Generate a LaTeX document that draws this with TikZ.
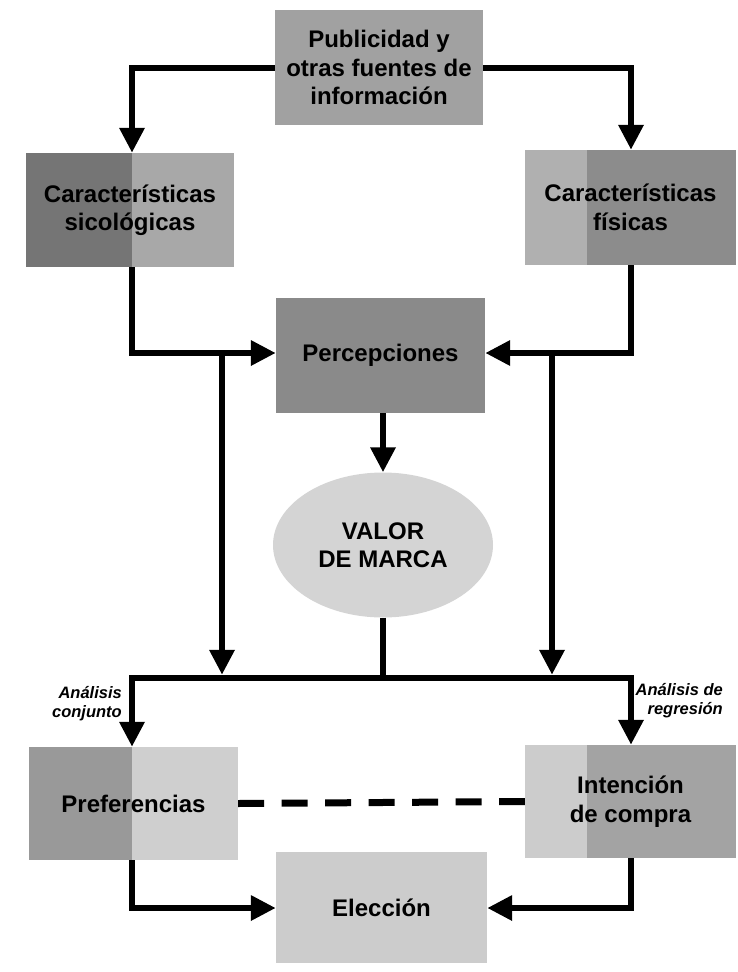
\documentclass[tikz,border=0pt]{standalone}
\usepackage{fontspec}
\setmainfont{Liberation Sans}
\usetikzlibrary{arrows.meta,shapes.geometric}

% tones of the shaded boxes
\definecolor{pubfill}{gray}{0.63}
\definecolor{perfill}{gray}{0.54}
\definecolor{psidark}{gray}{0.46}
\definecolor{psilight}{gray}{0.66}
\definecolor{fislight}{gray}{0.69}
\definecolor{fisdark}{gray}{0.55}
\definecolor{valfill}{gray}{0.83}
\definecolor{predark}{gray}{0.60}
\definecolor{prelight}{gray}{0.81}
\definecolor{intlight}{gray}{0.80}
\definecolor{intdark}{gray}{0.64}
\definecolor{elefill}{gray}{0.80}

\tikzset{
  box/.style={rectangle, inner sep=0pt, align=center,
    font=\bfseries\fontsize{24}{28.5}\selectfont},
  % darker band on one side of a box: #1 = colour, #2 = band width
  leftband/.style 2 args={path picture={
    \fill[#1] (path picture bounding box.south west) rectangle
      ([xshift=#2]path picture bounding box.north west);}},
  rightband/.style 2 args={path picture={
    \fill[#1] (path picture bounding box.south east) rectangle
      ([xshift=-#2]path picture bounding box.north east);}},
  flow/.style={line width=6.5pt, -{Triangle[length=25pt,width=24pt]}},
  plain/.style={line width=6.5pt},
  note/.style={align=right, inner sep=0pt,
    font=\bfseries\itshape\fontsize{16.5}{19}\selectfont},
}

\begin{document}
\begin{tikzpicture}[x=1pt, y=-1pt]
\useasboundingbox (0,0) rectangle (738,972);

% boxes
\node[box, fill=pubfill, minimum width=208pt, minimum height=115pt]
  (pub) at (379,67.5) {Publicidad y\\otras fuentes de\\información};
\node[box, fill=psilight, leftband={psidark}{106pt},
  minimum width=208pt, minimum height=114pt]
  (psi) at (130,210) {Características\\sicológicas};
\node[box, fill=fislight, rightband={fisdark}{149pt},
  minimum width=211pt, minimum height=115pt]
  (fis) at (630.5,207.5) {Características\\físicas};
\node[box, fill=perfill, minimum width=209pt, minimum height=115pt]
  (per) at (380.5,355.5) {Percepciones};
\node[box, ellipse, fill=valfill, minimum width=220pt, minimum height=145pt]
  (val) at (383,545) {VALOR\\DE MARCA};
\node[box, fill=prelight, leftband={predark}{103pt},
  minimum width=209pt, minimum height=113pt]
  (pre) at (133.5,803.5) {Preferencias};
\node[box, fill=intlight, rightband={intdark}{149pt},
  minimum width=211pt, minimum height=113pt]
  (int) at (630.5,801.5) {Intención\\de compra};
\node[box, fill=elefill, minimum width=211pt, minimum height=111pt]
  (ele) at (381.5,907.5) {Elección};

% labels of the two analyses
\node[note, anchor=east] (conj) at (122,704) {Análisis\\conjunto};
\node[note, anchor=east] (regr) at (723,701) {Análisis de\\regresión};

% junction points
\coordinate (lj) at (222,353);
\coordinate (rj) at (552,353);
\coordinate (bl) at (132,678);
\coordinate (br) at (631,678);
\coordinate (bm) at (383,678);
\coordinate (bla) at (222,678);
\coordinate (bra) at (552,678);

% from advertising to the two kinds of attributes
\draw[flow] (pub.west |- 0,68) -| (psi.north -| bl);
\draw[flow] (pub.east |- 0,68) -| (fis.north -| br);

% attributes into perceptions
\draw[flow] (psi.south -| bl) |- (per.west |- lj);
\draw[flow] (fis.south -| br) |- (per.east |- rj);

% perceptions to brand value
\draw[flow] (per.south -| bm) -- (val.north -| bm);

% direct paths down to the lower bar
\draw[flow] (lj) -- ([yshift=3.2pt]bla);
\draw[flow] (rj) -- ([yshift=3.2pt]bra);
\draw[plain] (val.south -| bm) -- (bm);

% lower bar splitting to preferences and purchase intention
\draw[flow, line cap=rect] (bm) -| (pre.north -| bl);
\draw[flow, line cap=rect] (bm) -| (int.north -| br);

% link between preferences and intention
\draw[line width=7pt, dash pattern=on 26pt off 17.5pt] (pre.east) -- (int.west);

% into the choice
\draw[flow] (pre.south -| bl) |- (ele.west |- 0,908);
\draw[flow] (int.south -| br) |- (ele.east |- 0,908);
\end{tikzpicture}
\end{document}
